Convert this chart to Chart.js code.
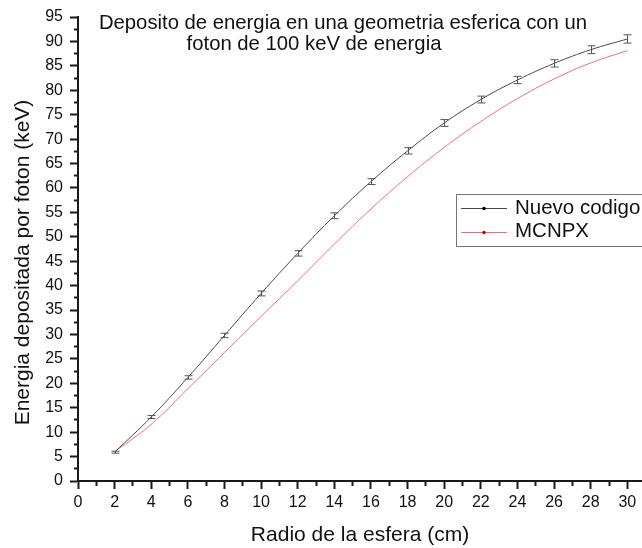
<!DOCTYPE html>
<html>
<head>
<meta charset="utf-8">
<script src="https://cdn.jsdelivr.net/npm/chart.js@4/dist/chart.umd.min.js"></script>
<style>
  html, body { margin: 0; padding: 0; background: #ffffff; }
  #wrap { width: 642px; height: 548px; }
</style>
</head>
<body>
<div id="wrap"><canvas id="c" width="642" height="548"></canvas></div>
<script>
// Sphere radius (cm)
const radios = [2, 4, 6, 8, 10, 12, 14, 16, 18, 20, 22, 24, 26, 28, 30];
// Energy deposited per photon (keV), new code, with its uncertainty
const nuevoCodigo = [5.9, 13.1, 21.2, 29.8, 38.4, 46.6, 54.3, 61.3, 67.6, 73.3, 78.1, 82.1, 85.5, 88.3, 90.5];
const nuevoError = [0.2, 0.3, 0.35, 0.45, 0.5, 0.55, 0.6, 0.6, 0.65, 0.7, 0.7, 0.75, 0.75, 0.8, 0.85];
// Energy deposited per photon (keV), MCNPX reference
const mcnpx = [6.0, 11.6, 18.9, 26.3, 33.7, 41.0, 48.5, 55.7, 62.3, 68.3, 73.6, 78.3, 82.3, 85.6, 88.1];

const seriesNames = ['Nuevo codigo', 'MCNPX'];
const titleLines = ['Deposito de energia en una geometria esferica con un', 'foton de 100 keV de energia'];
const xTitle = 'Radio de la esfera (cm)';
const yTitle = 'Energia depositada por foton (keV)';

const FONT = '"Liberation Sans", Arial, Helvetica, sans-serif';
const AXIS = '#1a1a1a';

const toPoints = (ys) => radios.map((x, i) => ({ x, y: ys[i] }));

// Minor ticks are drawn as a short dash next to the axis line
function tickDash(isMajor, fromAxis) {
  if (isMajor) return [];
  return fromAxis ? [4, 100] : [0, 4, 4, 100];
}

// Error bars of the first series
const errorBars = {
  id: 'errorBars',
  afterDatasetsDraw(chart) {
    const { ctx, scales: { x, y } } = chart;
    ctx.save();
    ctx.strokeStyle = '#555555';
    ctx.lineWidth = 1;
    radios.forEach((r, i) => {
      const px = Math.round(x.getPixelForValue(r)) + 0.5;
      const top = y.getPixelForValue(nuevoCodigo[i] + nuevoError[i]);
      const bot = y.getPixelForValue(nuevoCodigo[i] - nuevoError[i]);
      ctx.beginPath();
      ctx.moveTo(px, top); ctx.lineTo(px, bot);
      ctx.moveTo(px - 4, top); ctx.lineTo(px + 4, top);
      ctx.moveTo(px - 4, bot); ctx.lineTo(px + 4, bot);
      ctx.stroke();
    });
    ctx.restore();
  }
};

// Title, rotated y title and the boxed legend
const decorations = {
  id: 'decorations',
  afterDraw(chart) {
    const { ctx } = chart;
    ctx.save();
    ctx.fillStyle = '#111111';
    ctx.textAlign = 'center';
    ctx.textBaseline = 'alphabetic';
    ctx.font = '20.3px ' + FONT;
    ctx.fillText(titleLines[0], 343, 28.5);
    ctx.fillText(titleLines[1], 314, 49.5);

    ctx.save();
    ctx.translate(23, 262.5);
    ctx.rotate(-Math.PI / 2);
    ctx.textBaseline = 'middle';
    ctx.font = '21px ' + FONT;
    ctx.fillText(yTitle, 0, 0);
    ctx.restore();

    // legend
    ctx.strokeStyle = '#777777';
    ctx.lineWidth = 1;
    ctx.strokeRect(456.5, 194.5, 220, 52);
    const rows = [208.5, 232.5];
    const baselines = [214, 237];
    chart.data.datasets.forEach((ds, i) => {
      ctx.strokeStyle = ds.borderColor;
      ctx.lineWidth = 1;
      ctx.beginPath();
      ctx.moveTo(461, rows[i]); ctx.lineTo(507, rows[i]);
      ctx.stroke();
      ctx.fillStyle = ds.legendDot;
      ctx.beginPath();
      ctx.arc(484, rows[i], 1.8, 0, Math.PI * 2);
      ctx.fill();
      ctx.fillStyle = '#111111';
      ctx.textAlign = 'left';
      ctx.font = '20.5px ' + FONT;
      ctx.fillText(ds.label, 515, baselines[i]);
    });
    ctx.restore();
  }
};

new Chart(document.getElementById('c'), {
  type: 'line',
  data: {
    datasets: [
      {
        label: seriesNames[0],
        data: toPoints(nuevoCodigo),
        borderColor: '#4a4a4a',
        legendDot: '#000000',
        borderWidth: 1,
        pointRadius: 0,
        tension: 0.4,
        fill: false
      },
      {
        label: seriesNames[1],
        data: toPoints(mcnpx),
        borderColor: '#ee6f6f',
        legendDot: '#d00000',
        borderWidth: 1,
        pointRadius: 0,
        tension: 0.4,
        fill: false
      }
    ]
  },
  options: {
    responsive: false,
    animation: false,
    devicePixelRatio: 1,
    layout: { padding: { top: 17, right: 0, bottom: 0, left: 0 } },
    plugins: { legend: { display: false }, tooltip: { enabled: false } },
    scales: {
      x: {
        type: 'linear',
        min: 0,
        max: 30.8,
        afterFit(scale) { scale.height = 67; },
        border: { display: true, color: AXIS, width: 2 },
        grid: {
          drawOnChartArea: false,
          drawTicks: true,
          tickLength: 8,
          tickWidth: 2,
          tickColor: AXIS,
          tickBorderDash: (c) => tickDash(c.tick && c.tick.value % 2 === 0, true)
        },
        ticks: {
          stepSize: 1,
          includeBounds: false,
          autoSkip: false,
          maxRotation: 0,
          padding: 4,
          color: '#111111',
          font: { family: FONT, size: 16 },
          callback: (v) => (v % 2 === 0 ? String(v) : '')
        },
        title: {
          display: true,
          text: xTitle,
          color: '#111111',
          font: { family: FONT, size: 21 },
          padding: { top: 0, bottom: 0 }
        }
      },
      y: {
        type: 'linear',
        min: 0,
        max: 95,
        afterFit(scale) { scale.width = 78; },
        border: { display: true, color: AXIS, width: 2 },
        grid: {
          drawOnChartArea: false,
          drawTicks: true,
          tickLength: 8,
          tickWidth: 2,
          tickColor: AXIS,
          tickBorderDash: (c) => tickDash(c.tick && c.tick.value % 5 === 0, false)
        },
        ticks: {
          stepSize: 2.5,
          autoSkip: false,
          padding: 7,
          color: '#111111',
          font: { family: FONT, size: 16 },
          callback: (v) => (v % 5 === 0 ? String(v) : '')
        }
      }
    }
  },
  plugins: [errorBars, decorations]
});
</script>
</body>
</html>
